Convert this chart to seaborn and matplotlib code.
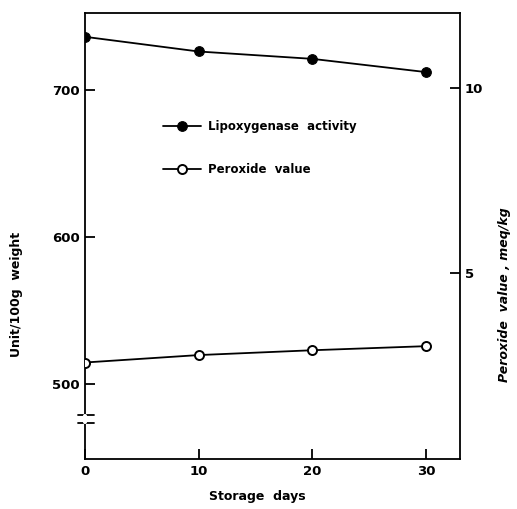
import numpy as np
import pandas as pd
import matplotlib
matplotlib.use("Agg")
import matplotlib.pyplot as plt
import seaborn as sns

days = [0, 10, 20, 30]
lipoxygenase = [736, 726, 721, 712]   # Unit/100g weight (left axis)
peroxide = [2.6, 2.8, 2.93, 3.04]     # meq/kg (right axis)

sns.set_style("ticks")
plt.rcParams['font.family'] = ['DejaVu Sans']
plt.rcParams['font.weight'] = 'bold'
plt.rcParams['text.color'] = 'black'
plt.rcParams['axes.labelcolor'] = 'black'
plt.rcParams['xtick.color'] = 'black'
plt.rcParams['ytick.color'] = 'black'

fig = plt.figure(figsize=(5.17, 5.09), dpi=100)
ax = fig.add_axes([0.164, 0.098, 0.726, 0.876])
ax2 = ax.twinx()

df = pd.DataFrame({"days": days, "lipox": lipoxygenase, "perox": peroxide})

sns.lineplot(data=df, x="days", y="lipox", ax=ax, color="black", lw=1.3,
             marker="o", markersize=7, markerfacecolor="black",
             markeredgecolor="black", label="Lipoxygenase  activity", legend=False)
sns.lineplot(data=df, x="days", y="perox", ax=ax2, color="black", lw=1.3,
             marker="o", markersize=6.5, markerfacecolor="white",
             markeredgecolor="black", markeredgewidth=1.4,
             label="Peroxide  value", legend=False)

ax.set_xlim(0, 33)
ax.set_ylim(449, 752)
ax2.set_ylim(0, 12)

ax.set_xticks([0, 10, 20, 30])
ax.set_yticks([500, 600, 700])
ax2.set_yticks([5, 10])

for s in ax.spines.values():
    s.set_linewidth(1.3)
    s.set_color("black")
    s.set_visible(True)
ax.spines["right"].set_visible(False)
for name, s in ax2.spines.items():
    s.set_linewidth(1.3)
    s.set_color("black")
    s.set_visible(name == "right")
for a in (ax, ax2):
    a.tick_params(direction="in", length=7, width=1.3, labelsize=9.5,
                  colors="black")
ax.tick_params(axis="x", pad=4)

ax.set_xlabel("Storage  days", fontsize=9, fontweight="bold")
ax.xaxis.set_label_coords(0.46, -0.07)
ax.set_ylabel("Unit/100g  weight", fontsize=9, fontweight="bold")
ax.yaxis.set_label_coords(-0.165, 0.37)
ax2.set_ylabel("Peroxide  value , meq/kg", fontsize=9, fontweight="bold",
               style="italic")
ax2.yaxis.set_label_coords(1.10, 0.37)

# axis break on the left spine
ax.plot([-0.018, 0.025, None, -0.018, 0.025], [0.099, 0.099, None, 0.081, 0.081],
        transform=ax.transAxes, color="black", lw=1.3, clip_on=False, zorder=5)
ax.plot([0, 0], [0.084, 0.096], transform=ax.transAxes, color="white",
        lw=3, clip_on=False, zorder=6)

# legend drawn inside
h1, l1 = ax.get_legend_handles_labels()
h2, l2 = ax2.get_legend_handles_labels()
ax2.legend(h1 + h2, l1 + l2, loc="upper left", bbox_to_anchor=(0.18, 0.785),
           frameon=False, fontsize=8.5, handlelength=3.2, labelspacing=2.6,
           handletextpad=0.6)

fig.savefig("out.png", dpi=100)
